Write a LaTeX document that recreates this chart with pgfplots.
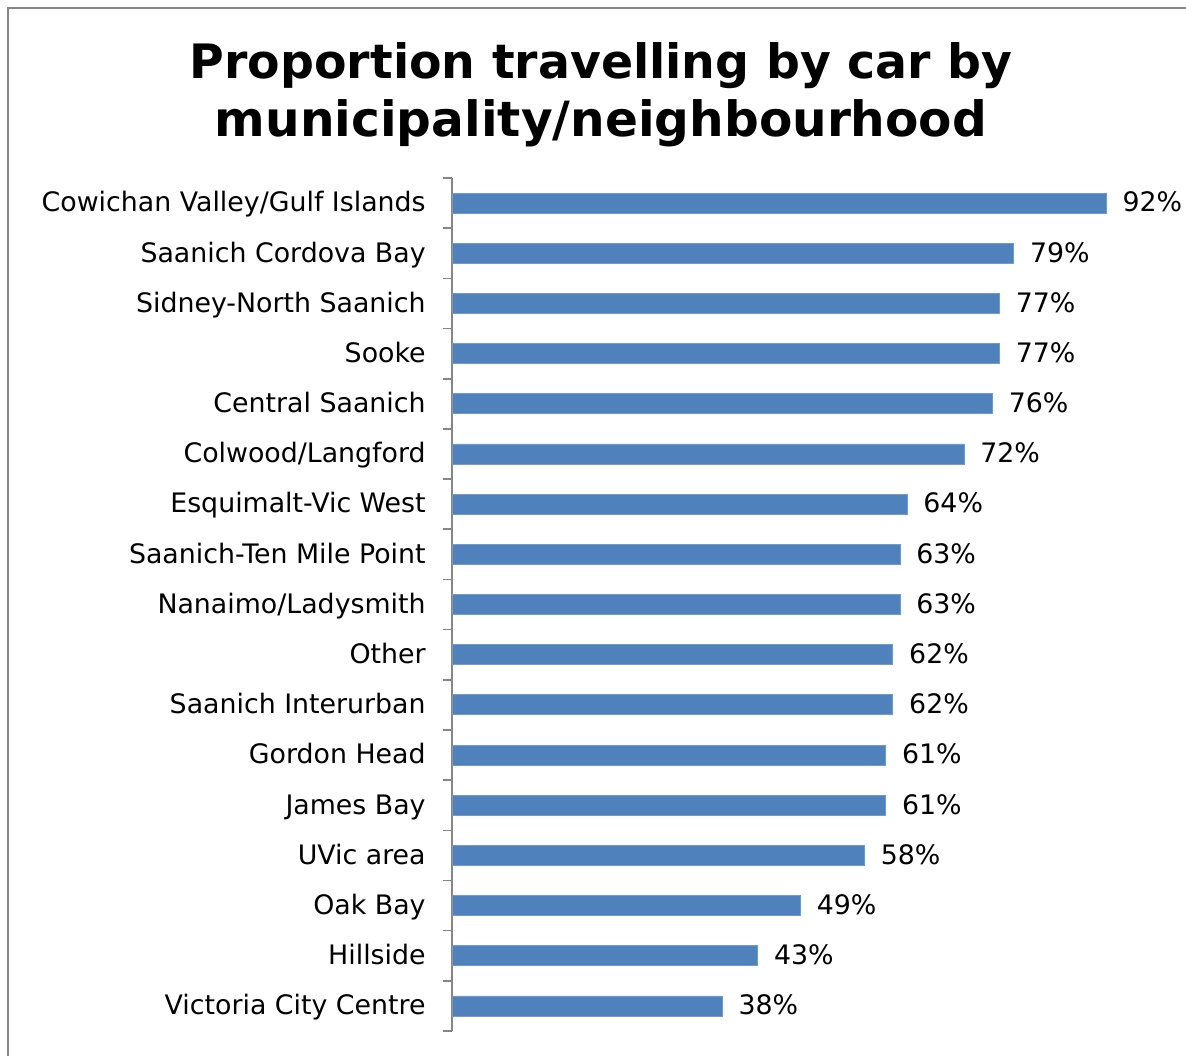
\documentclass[border=0pt]{standalone}
\usepackage{pgfplots}
\pgfplotsset{compat=1.18}
\usepackage{fontspec}
\setmainfont{DejaVu Sans}
\definecolor{barblue}{HTML}{4F81BD}
\definecolor{axgray}{HTML}{868686}
\begin{document}
\begin{tikzpicture}
\useasboundingbox (0,0) rectangle (593pt,-527.5pt);
\clip (0,0) rectangle (593pt,-527.5pt);
\draw[axgray, line width=1pt] (4pt,-530pt) -- (4pt,-4pt) -- (600pt,-4pt);
\node[anchor=base, font=\fontsize{23.7}{28}\selectfont\bfseries] at (300.5pt,-39pt) {Proportion travelling by car by};
\node[anchor=base, font=\fontsize{24.3}{28}\selectfont\bfseries] at (300.5pt,-68pt) {municipality/neighbourhood};
\begin{axis}[
  at={(226pt,-89pt)}, anchor=north west,
  scale only axis, width=355.5pt, height=426.5pt,
  xbar, bar width=10pt,
  xmin=0, xmax=100,
  ymin=-0.5, ymax=16.5, y dir=reverse,
  axis x line=none, axis y line=left,
  axis line style={-, axgray, line width=0.8pt},
  ytick={0,...,16},
  yticklabels={Cowichan Valley/Gulf Islands, Saanich Cordova Bay, Sidney-North Saanich, Sooke, Central Saanich, Colwood/Langford, Esquimalt-Vic West, Saanich-Ten Mile Point, Nanaimo/Ladysmith, Other, Saanich Interurban, Gordon Head, James Bay, UVic area, Oak Bay, Hillside, Victoria City Centre},
  major tick length=0pt,
  minor ytick={-0.5,0.5,...,16.5},
  minor tick length=4.5pt,
  tick align=outside,
  every minor tick/.append style={axgray, line width=0.8pt},
  yticklabel style={font=\fontsize{13.4}{16}\selectfont, inner sep=0pt, xshift=-13pt, text height=9.8pt, text depth=2.6pt, yshift=-0.8pt},
  point meta=explicit symbolic,
  nodes near coords,
  nodes near coords style={font=\fontsize{13.4}{16}\selectfont, anchor=west, inner sep=0pt, xshift=8pt, text height=9.8pt, text depth=2.6pt, yshift=-0.8pt},
  clip=false,
]
\addplot[fill=barblue, draw=barblue!80!white] table[meta=lab] {
x y lab
92 0 92\%
79 1 79\%
77 2 77\%
77 3 77\%
76 4 76\%
72 5 72\%
64 6 64\%
63 7 63\%
63 8 63\%
62 9 62\%
62 10 62\%
61 11 61\%
61 12 61\%
58 13 58\%
49 14 49\%
43 15 43\%
38 16 38\%
};
\end{axis}
\end{tikzpicture}
\end{document}
